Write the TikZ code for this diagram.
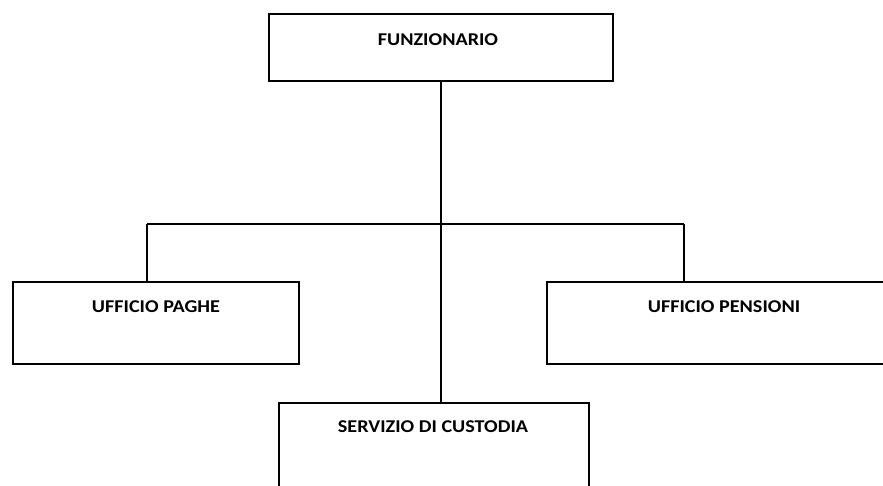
\documentclass[tikz,border=0pt]{standalone}
\usepackage{fontspec}
\setmainfont{Carlito}
\newfontfamily\lblfont[FakeStretch=1.12]{Carlito}
\begin{document}
\begin{tikzpicture}[x=1pt,y=-1pt,
  box/.style={draw=black, line width=1.6pt, fill=white, inner sep=0pt},
  lbl/.style={font=\lblfont\fontsize{18}{20}\selectfont\bfseries, inner sep=0pt, anchor=center},
  conn/.style={draw=black, line width=1.6pt}]
\useasboundingbox (0,0) rectangle (883,485);
\clip (0,0) rectangle (883,485);
% connectors
\coordinate (top) at (441,80);
\coordinate (bus) at (441,224);
\coordinate (busL) at (147,224);
\coordinate (busR) at (684,224);
\node[box, minimum width=286pt, minimum height=82pt, anchor=north west] (paghe) at (12,281) {};
\node[box, minimum width=356pt, minimum height=82pt, anchor=north west] (pensioni) at (546,281) {};
\node[box, minimum width=310pt, minimum height=110pt, anchor=north west] (custodia) at (278,402) {};
\node[box, minimum width=344pt, minimum height=67pt, anchor=north west] (funz) at (268,13) {};
\draw[conn] (funz.south -| top) -- (custodia.north -| top);
\draw[conn] (busL) -- (busR);
\draw[conn] (busL) -- (paghe.north -| busL);
\draw[conn] (busR) -- (pensioni.north -| busR);
% labels
\node[lbl] (tfunz) at (438,40) {FUNZIONARIO};
\node[lbl] (tpaghe) at (156,307) {UFFICIO PAGHE};
\node[lbl] (tpens) at (724,307) {UFFICIO PENSIONI};
\node[lbl] (tcust) at (433,427) {SERVIZIO DI CUSTODIA};
\end{tikzpicture}
\end{document}
